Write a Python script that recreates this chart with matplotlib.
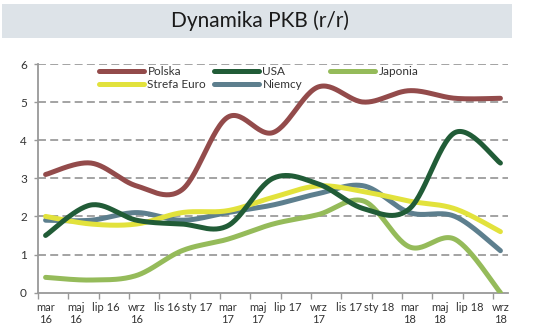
import numpy as np
import matplotlib
matplotlib.use("Agg")
import matplotlib.pyplot as plt
from matplotlib.patches import Rectangle

plt.rcParams['font.family'] = ['Lato', 'DejaVu Sans']

# monthly category axis, mar 16 .. wrz 18 (31 months); data are quarterly
tick_labels = ["mar\n16", "maj\n16", "lip 16", "wrz\n16", "lis 16", "sty 17",
               "mar\n17", "maj\n17", "lip 17", "wrz\n17", "lis 17", "sty 18",
               "mar\n18", "maj\n18", "lip 18", "wrz\n18"]
n_months = 31
quarter_idx = [0, 3, 6, 9, 12, 15, 18, 21, 24, 27, 30]

polska = [3.1, 3.4, 2.8, 2.7, 4.6, 4.2, 5.4, 5.0, 5.3, 5.1, 5.1]
usa = [1.5, 2.3, 1.9, 1.8, 1.75, 3.0, 2.85, 2.2, 2.2, 4.2, 3.4]
japonia = [0.4, 0.33, 0.45, 1.1, 1.4, 1.8, 2.05, 2.4, 1.2, 1.4, 0.0]
strefa_euro = [2.0, 1.8, 1.8, 2.1, 2.15, 2.5, 2.8, 2.65, 2.4, 2.2, 1.6]
niemcy = [1.9, 1.9, 2.1, 1.9, 2.1, 2.3, 2.6, 2.8, 2.1, 2.0, 1.1]

colors = {
    "Polska": "#934b4b",
    "USA": "#215c37",
    "Japonia": "#95bb5a",
    "Strefa Euro": "#e2e23c",
    "Niemcy": "#5d7f8e",
}


def smooth(xs, ys, steps=30):
    """Excel-like smoothed line (Catmull-Rom as cubic Bezier)."""
    p = np.column_stack([xs, ys]).astype(float)
    p = np.vstack([p[0], p, p[-1]])
    out = []
    t = np.linspace(0, 1, steps)[:, None]
    for i in range(1, len(p) - 2):
        p0, p1, p2, p3 = p[i - 1], p[i], p[i + 1], p[i + 2]
        c1 = p1 + (p2 - p0) / 6
        c2 = p2 - (p3 - p1) / 6
        seg = ((1 - t) ** 3) * p1 + 3 * ((1 - t) ** 2) * t * c1 \
            + 3 * (1 - t) * t ** 2 * c2 + t ** 3 * p2
        out.append(seg if i == 1 else seg[1:])
    out = np.vstack(out)
    return out[:, 0], out[:, 1]


fig = plt.figure(figsize=(5.36, 3.32), dpi=100)
fig.patches.append(Rectangle((2 / 536, 1 - 38 / 332), 510 / 536, 34 / 332,
                             transform=fig.transFigure, facecolor="#dde3e8",
                             edgecolor="none", zorder=0))
fig.text(260 / 536, 1 - 21 / 332, "Dynamika PKB (r/r)", ha="center", va="center",
         fontsize=15, color="#1a1a1a")

ax = fig.add_axes([38 / 536, 39.4 / 332, 470 / 536, 228.6 / 332])
ax.set_xlim(-0.5, n_months - 0.5)
ax.set_ylim(0, 6)

for y in range(1, 7):
    ax.axhline(y, color="#8a8a8a", lw=1.1, linestyle=(0, (5.2, 2.8)), zorder=1)

series = [("Polska", polska), ("Strefa Euro", strefa_euro), ("USA", usa),
          ("Niemcy", niemcy), ("Japonia", japonia)]
draw_order = ["Japonia", "Niemcy", "Strefa Euro", "USA", "Polska"]
handles = {}
for name, vals in series:
    sx, sy = smooth(quarter_idx, vals)
    ln, = ax.plot(sx, sy, color=colors[name], lw=3.6, solid_capstyle="round",
                  zorder=3 + draw_order.index(name), label=name)
    handles[name] = ln

ax.set_yticks(range(0, 7))
ax.tick_params(axis="y", length=3, width=1, color="#999999", labelsize=8.5,
               labelcolor="#333333", pad=5)
ax.set_xticks(range(0, n_months, 2))
ax.set_xticklabels(tick_labels, va="top", linespacing=1.05)
ax.tick_params(axis="x", which="major", length=0, labelsize=8,
               labelcolor="#333333", pad=7)
ax.set_xticks(np.arange(-0.5, n_months - 1, 2), minor=True)
ax.tick_params(axis="x", which="minor", length=4, width=1, color="#999999")

for s in ["top", "right"]:
    ax.spines[s].set_visible(False)
for s in ["left", "bottom"]:
    ax.spines[s].set_color("#999999")
    ax.spines[s].set_linewidth(1.3)

# legend: three columns placed like the original
legend_cols = [(["Polska", "Strefa Euro"], 99), (["USA"], 214), (["Niemcy"], 214),
               (["Japonia"], 330)]
col_rows = {"Polska": 0, "Strefa Euro": 1, "USA": 0, "Niemcy": 1, "Japonia": 0}
for names, xpx in legend_cols:
    ypx = 66 + 13 * col_rows[names[0]]
    leg = fig.legend([handles[n] for n in names], names, loc="upper left",
                     bbox_to_anchor=(xpx / 536, 1 - ypx / 332),
                     frameon=False, fontsize=8.5, handlelength=3.8,
                     handletextpad=0.3, labelspacing=0.15, borderpad=0,
                     borderaxespad=0)
    for t in leg.get_texts():
        t.set_color("#333333")

fig.savefig("out.png", dpi=100)
